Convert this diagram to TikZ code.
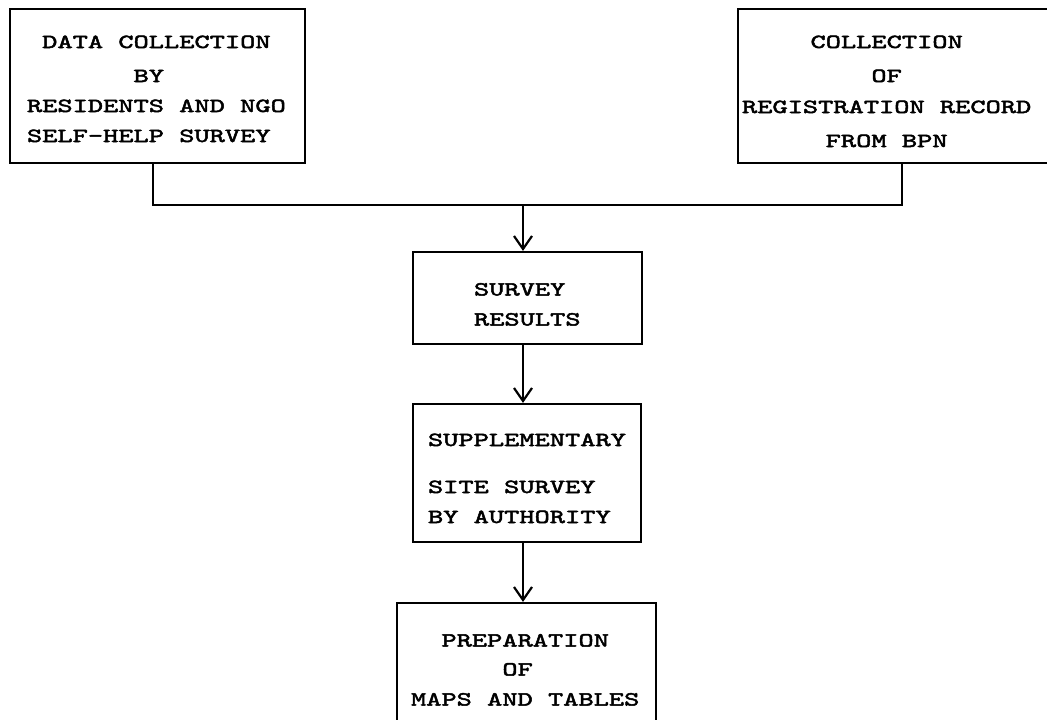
\documentclass[tikz,border=0pt]{standalone}
\usepackage{fontspec}
\usetikzlibrary{arrows.meta}
% typewriter face, widened and darkened
\newfontfamily\typer{lmmono10-regular.otf}[FakeStretch=1.45,FakeBold=2.5]
\newlength\pix \setlength\pix{0.5pt}
% one typewriter column: 0.525em x 10pt x 1.45
\newlength\cw \setlength\cw{7.6125pt}
\newcommand\ind[1]{\hspace*{#1\cw}}
% #1 box width, #2 left indent, #3 extra space on top, #4 column, #5 lines
\newcommand\bxtext[5]{\makebox[#1\pix][l]{\hspace*{#2\pix}\raisebox{0pt}[\dimexpr\height+#3\pix\relax]{\begin{tabular}{@{}#4@{}}#5\end{tabular}}}}
\tikzset{
  stepbox/.style={draw, rectangle, line width=1.1pt, inner sep=0pt,
    font=\typer\fontsize{10pt}{15pt}\selectfont},
  flow/.style={line width=1.1pt},
  arr/.style={flow, -{Straight Barb[length=6.5pt,width=9pt]}}
}
\begin{document}
\begin{tikzpicture}[x=0.5pt, y=-0.5pt]
\clip (0,0) rectangle (1047,719);

\node[stepbox, minimum width=295\pix, minimum height=154\pix] (b1) at (157.5,86)
  {\bxtext{295}{17}{6}{l}{\ind{1}DATA COLLECTION\\[2pt]
    \ind{7}BY\\
    RESIDENTS AND NGO\\
    SELF-HELP SURVEY}};

\node[stepbox, minimum width=328\pix, minimum height=154\pix] (b2) at (902,86)
  {\bxtext{328}{4}{11}{c}{COLLECTION\\[2pt]
    OF\\[0.5pt]
    REGISTRATION RECORD\\[2pt]
    FROM BPN}};

\node[stepbox, minimum width=229\pix, minimum height=92\pix] (b3) at (527.5,298)
  {\bxtext{229}{61}{13}{l}{SURVEY\\RESULTS}};

\node[stepbox, minimum width=228\pix, minimum height=138\pix] (b4) at (527,473)
  {\bxtext{228}{15}{11}{l}{SUPPLEMENTARY\\[8.5pt]
    SITE SURVEY\\
    BY AUTHORITY}};

\node[stepbox, minimum width=259\pix, minimum height=124\pix] (b5) at (526.5,665)
  {\bxtext{259}{14}{10}{l}{\ind{2}PREPARATION\\[-0.5pt]
    \ind{6}OF\\
    MAPS AND TABLES}};

% merging lines and flow arrows
\coordinate (j) at (523,205);
\draw[flow] ([xshift=-2.25pt]b1.south) |- (j);
\draw[flow] (b2.south) |- (j);
\draw[arr] (j) -- (j |- b3.north);
\draw[arr] (b3.south -| j) -- (j |- b4.north);
\draw[arr] (b4.south -| j) -- (j |- b5.north);
\end{tikzpicture}
\end{document}
